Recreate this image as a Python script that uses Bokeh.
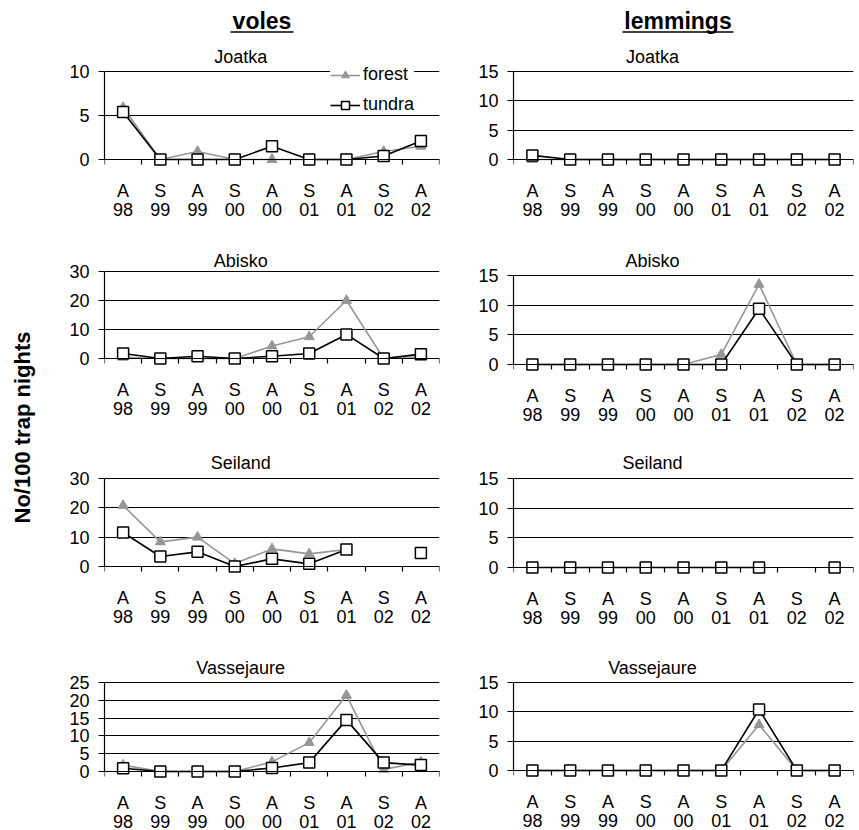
import math
from bokeh.plotting import figure
from bokeh.models import Range1d, FixedTicker, LinearAxis, Label, Legend, LegendItem, Grid
from bokeh.layouts import row, column
from bokeh.embed import file_html
from bokeh.resources import INLINE
from bokeh.core.properties import value

NaN = float("nan")

# ---------------- data ----------------
seasons = ["A", "S", "A", "S", "A", "S", "A", "S", "A"]
years = ["98", "99", "99", "00", "00", "01", "01", "02", "02"]
sites = ["Joatka", "Abisko", "Seiland", "Vassejaure"]

voles_forest_joatka = [5.9, 0, 0.9, 0, 0, 0, 0, 0.9, 1.5]
voles_tundra_joatka = [5.4, 0, 0, 0, 1.5, 0, 0, 0.4, 2.1]
voles_forest_abisko = [0.4, 0, 0, 0, 4.3, 7.5, 20.0, 0, 0.6]
voles_tundra_abisko = [1.7, 0, 0.8, 0, 0.8, 1.7, 8.3, 0, 1.5]
voles_forest_seiland = [20.8, 8.4, 10.0, 1.0, 6.0, 4.3, 5.8, NaN, NaN]
voles_tundra_seiland = [11.6, 3.4, 5.0, 0, 2.6, 0.9, 5.8, NaN, 4.6]
voles_forest_vassejaure = [1.8, 0, 0, 0, 2.7, 8.1, 21.4, 0.6, 2.6]
voles_tundra_vassejaure = [0.9, 0, 0, 0, 1.0, 2.5, 14.5, 2.5, 1.8]

lemmings_forest_joatka = [0, 0, 0, 0, 0, 0, 0, 0, 0]
lemmings_tundra_joatka = [0.7, 0, 0, 0, 0, 0, 0, 0, 0]
lemmings_forest_abisko = [0, 0, 0, 0, 0, 1.7, 13.5, 0, 0]
lemmings_tundra_abisko = [0, 0, 0, 0, 0, 0, 9.4, 0, 0]
lemmings_forest_seiland = [NaN, NaN, NaN, NaN, NaN, NaN, NaN, NaN, NaN]
lemmings_tundra_seiland = [0, 0, 0, 0, 0, 0, 0, NaN, 0]
lemmings_forest_vassejaure = [0, 0, 0, 0, 0, 0, 7.8, 0, 0]
lemmings_tundra_vassejaure = [0, 0, 0, 0, 0, 0, 10.4, 0, 0]

voles_ymax = [10, 30, 30, 25]
voles_step = [5, 10, 10, 5]
lemmings_ymax = [15, 15, 15, 15]
lemmings_step = [5, 5, 5, 5]

voles_forest = [voles_forest_joatka, voles_forest_abisko, voles_forest_seiland, voles_forest_vassejaure]
voles_tundra = [voles_tundra_joatka, voles_tundra_abisko, voles_tundra_seiland, voles_tundra_vassejaure]
lemmings_forest = [lemmings_forest_joatka, lemmings_forest_abisko, lemmings_forest_seiland, lemmings_forest_vassejaure]
lemmings_tundra = [lemmings_tundra_joatka, lemmings_tundra_abisko, lemmings_tundra_seiland, lemmings_tundra_vassejaure]

# ---------------- style / layout (page pixels; the page has no margin) ----------------
FONT = "Liberation Sans"
GRAY = "#969696"

HDR_H = 38
row_h = [200, 202, 200, 190]
row_top = [38, 238, 440, 640]
voles_px = [(71, 159), (271, 358), (478, 566), (682, 771)]
lem_px = [(71, 159), (275, 364), (478, 567), (682, 770)]
title_cy = [56, 260, 462, 667]
S_SEASON = 16
S_YEAR = 43

LEFT_W = 66
VOLES_W, VOLES_LB, VOLES_RB = 382, 36, 9      # frame 102..439
LEM_W, LEM_LB, LEM_RB = 410, 65, 5            # frame 513..853


def make_panel(title, forest, tundra, ymax, step, fig_w, left_b, right_b,
               fig_top, fig_h, top_px, zero_px, title_cx_px, tcy, legend=False):
    frame_w = fig_w - left_b - right_b
    frame_left_px = LEFT_W + (0 if fig_w == VOLES_W else VOLES_W) + left_b
    H = zero_px - top_px
    upp = ymax / H
    pad_t = top_px - fig_top
    pad_b = fig_top + fig_h - zero_px
    p = figure(width=fig_w, height=fig_h, output_backend="svg", toolbar_location=None,
               x_range=Range1d(-0.5, 8.5),
               y_range=Range1d(-pad_b * upp, ymax + pad_t * upp),
               x_axis_type=None, y_axis_type=None,
               min_border_left=left_b, min_border_right=right_b,
               min_border_top=0, min_border_bottom=0,
               outline_line_color=None, background_fill_color="white",
               border_fill_color="white")

    yt = FixedTicker(ticks=list(range(0, ymax + 1, step)), minor_ticks=[])
    p.add_layout(Grid(dimension=1, ticker=yt, grid_line_color="black", grid_line_width=1.2))
    yax = LinearAxis(ticker=yt, bounds=(0, ymax), major_tick_out=6, major_tick_in=0,
                     minor_tick_out=0, minor_tick_in=0, major_label_standoff=9,
                     axis_line_color="black", major_tick_line_color="black",
                     axis_line_width=1.2, major_tick_line_width=1.2,
                     major_label_text_font=FONT, major_label_text_font_size="18px",
                     major_label_text_color="black")
    p.add_layout(yax, "left")

    xs = list(range(9))
    xt = FixedTicker(ticks=xs, minor_ticks=[i - 0.5 for i in range(10)])
    ax1 = LinearAxis(ticker=xt, fixed_location=0,
                     major_label_overrides={i: s for i, s in enumerate(seasons)},
                     major_tick_out=0, major_tick_in=0, minor_tick_out=5, minor_tick_in=0,
                     axis_line_color="black", minor_tick_line_color="black",
                     axis_line_width=1.2, minor_tick_line_width=1.2,
                     major_label_standoff=S_SEASON, major_label_text_font=FONT,
                     major_label_text_font_size="18px", major_label_text_color="black")
    ax2 = LinearAxis(ticker=xt, fixed_location=0,
                     major_label_overrides={i: s for i, s in enumerate(years)},
                     major_tick_out=0, major_tick_in=0, minor_tick_out=0, minor_tick_in=0,
                     axis_line_color=None, major_tick_line_color=None, minor_tick_line_color=None,
                     major_label_standoff=S_YEAR, major_label_text_font=FONT,
                     major_label_text_font_size="18px", major_label_text_color="black")
    p.add_layout(ax1, "below")
    p.add_layout(ax2, "below")

    fl = p.line(xs, forest, line_color=GRAY, line_width=1.6)
    fs = p.scatter(xs, forest, marker="triangle", size=10, fill_color=GRAY, line_color=GRAY)
    tl = p.line(xs, tundra, line_color="black", line_width=1.6)
    ts = p.scatter(xs, tundra, marker="square", size=11, fill_color="white",
                   line_color="black", line_width=1.5)

    tx = -0.5 + (title_cx_px - frame_left_px) / frame_w * 9
    p.add_layout(Label(x=tx, y=ymax, y_offset=top_px - tcy, text=title,
                       text_align="center", text_baseline="middle",
                       text_font=FONT, text_font_size="18px", text_color="black"))

    if legend:
        lg = Legend(items=[LegendItem(label="forest", renderers=[fl, fs]),
                           LegendItem(label="tundra", renderers=[tl, ts])],
                    location=(226, fig_top + fig_h - 115), padding=3, spacing=9,
                    glyph_width=30, glyph_height=20, label_height=20, label_standoff=3,
                    margin=0, background_fill_color="white", background_fill_alpha=1.0,
                    border_line_color=None, label_text_font=FONT,
                    label_text_font_size="18px", label_text_color="black")
        p.add_layout(lg)
    return p


rows = []
for i, site in enumerate(sites):
    v = make_panel(site, voles_forest[i], voles_tundra[i], voles_ymax[i], voles_step[i],
                   VOLES_W, VOLES_LB, VOLES_RB, row_top[i], row_h[i],
                   voles_px[i][0], voles_px[i][1], 239, title_cy[i], legend=(i == 0))
    l = make_panel(site, lemmings_forest[i], lemmings_tundra[i], lemmings_ymax[i], lemmings_step[i],
                   LEM_W, LEM_LB, LEM_RB, row_top[i], row_h[i],
                   lem_px[i][0], lem_px[i][1], 652, title_cy[i])
    rows.append(row(v, l, spacing=0))

# column headers (coordinates = page pixels, y negated)
HW = VOLES_W + LEM_W
hdr = figure(width=HW, height=HDR_H, output_backend="svg", toolbar_location=None,
             x_range=Range1d(LEFT_W, LEFT_W + HW), y_range=Range1d(-HDR_H, 0),
             x_axis_type=None, y_axis_type=None, min_border=0,
             min_border_left=0, min_border_right=0, min_border_top=0, min_border_bottom=0,
             outline_line_color=None)
hdr.text(x=[261.5, 677.5], y=[-20.5, -20.5], text=["voles", "lemmings"],
         text_align="center", text_baseline="middle", text_font=value(FONT),
         text_font_style="bold", text_font_size="23px", text_color="black")
hdr.segment(x0=[230, 622], y0=[-31.5, -31.5], x1=[293, 733], y1=[-31.5, -31.5],
            line_color="black", line_width=1.5)

# y-axis title strip
TOTAL_H = HDR_H + sum(row_h)
left = figure(width=LEFT_W, height=TOTAL_H, output_backend="svg", toolbar_location=None,
              x_range=Range1d(0, LEFT_W), y_range=Range1d(-TOTAL_H, 0),
              x_axis_type=None, y_axis_type=None, min_border=0,
              min_border_left=0, min_border_right=0, min_border_top=0, min_border_bottom=0,
              outline_line_color=None)
left.text(x=[22], y=[-427], text=["No/100 trap nights"], angle=math.pi / 2,
          text_align="center", text_baseline="middle", text_font=value(FONT),
          text_font_style="bold", text_font_size="22px", text_color="black")

layout = row(left, column(hdr, *rows, spacing=0), spacing=0)

open("out.html", "w").write(file_html(layout, INLINE))
